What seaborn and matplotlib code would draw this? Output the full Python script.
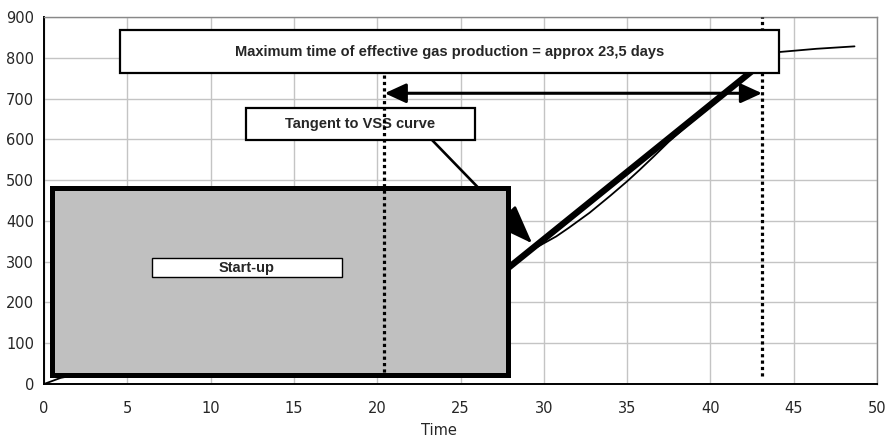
import matplotlib
matplotlib.use("Agg")
import matplotlib.pyplot as plt
import seaborn as sns
import pandas as pd
from matplotlib.patches import Rectangle

# ---- data ----
time_days = [0, 1, 2.5, 5, 10, 15, 20, 25, 27, 28.5, 29.3, 30.0, 30.75, 31.5,
             32.75, 34.0, 35.0, 35.75, 36.6, 37.5, 38.5, 40, 41, 42, 43, 43.6,
             44.1, 46.35, 48.65]
vss_curve = [0, 15, 27, 50, 100, 150, 200, 235, 252, 303, 329, 345, 362, 383,
             420, 462, 497, 525, 558, 594, 630, 680, 715, 748, 785, 804,
             814, 822, 828]
tangent_x = [24.0, 44.0]
tangent_y = [157, 817]
effective_start = 20.4
effective_end = 43.1
arrow_level = 713
x_ticks = [0, 5, 10, 15, 20, 25, 30, 35, 40, 45, 50]
y_ticks = [0, 100, 200, 300, 400, 500, 600, 700, 800, 900]
title_text = "Maximum time of effective gas production = approx 23,5 days"
tangent_text = "Tangent to VSS curve"
startup_text = "Start-up"

sns.set_style("white")
plt.rcParams['font.family'] = ['DejaVu Sans']
label_font = ['Liberation Sans Narrow', 'Liberation Sans', 'DejaVu Sans']

fig = plt.figure(figsize=(8.9, 4.37), dpi=100)
ax = fig.add_axes([44/890, 1-384/437, (877-44)/890, (384-17)/437])

df = pd.DataFrame({"Time": time_days, "VSS": vss_curve})
sns.lineplot(data=df, x="Time", y="VSS", ax=ax, color="black", lw=1.3,
             zorder=2, estimator=None, sort=False)

# grid & axes
ax.set_xlim(0, 50)
ax.set_ylim(0, 900)
ax.set_xticks(x_ticks)
ax.set_yticks(y_ticks)
ax.set_xticklabels([str(v) for v in x_ticks])
ax.set_yticklabels([str(v) for v in y_ticks])
ax.grid(True, color="#c4c4c4", lw=1.0, zorder=0.5)
ax.set_axisbelow(True)
for s in ["left", "bottom"]:
    ax.spines[s].set_color("black")
    ax.spines[s].set_linewidth(1.4)
for s in ["top", "right"]:
    ax.spines[s].set_color("#888888")
    ax.spines[s].set_linewidth(1.0)
ax.tick_params(axis="both", direction="out", length=4, width=1, color="black",
               labelsize=10.5)
ax.tick_params(axis="x", pad=8)
ax.tick_params(axis="y", pad=3)
ax.set_ylabel("")
ax.set_xlabel("Time", fontsize=10.5)
ax.xaxis.set_label_coords((439-44)/833, -0.106)

# tangent line
ax.plot(tangent_x, tangent_y, color="black", lw=4.6, zorder=3,
        solid_capstyle="butt")

# arrow from tangent label to tangent point
ax.annotate("", xy=(29.3, 345), xytext=(23.3, 598),
            arrowprops=dict(arrowstyle="-|>,head_length=1.35,head_width=0.5",
                            mutation_scale=18, lw=1.9, color="black",
                            shrinkA=0, shrinkB=0),
            zorder=3)

# start-up grey box
ax.add_patch(Rectangle((0.48, 22), 27.36, 459, facecolor="#c0c0c0",
                       edgecolor="black", lw=3.6, zorder=4, clip_on=False))
ax.add_patch(Rectangle((6.48, 262), 11.4, 47, facecolor="white",
                       edgecolor="black", lw=1.0, zorder=5))
ax.text(12.18, 285.5, startup_text, ha="center", va="center", fontsize=10.5,
        fontweight="bold", family=label_font, zorder=6)

# right dotted line
ax.plot([effective_end, effective_end], [20, 900], color="black", lw=2.3,
        ls=(0, (1, 1)), zorder=4, clip_on=False)

# top box
ax.add_patch(Rectangle((4.56, 762), 39.54, 106, facecolor="white",
                       edgecolor="black", lw=1.6, zorder=5))
ax.text(24.33, 815, title_text, ha="center", va="center", fontsize=10.5,
        fontweight="bold", family=label_font, zorder=6)

# tangent label box
ax.add_patch(Rectangle((12.12, 598), 13.78, 79, facecolor="white",
                       edgecolor="black", lw=1.6, zorder=5))
ax.text(19.0, 637, tangent_text, ha="center", va="center", fontsize=10.5,
        fontweight="bold", family=label_font, zorder=6)

# left dotted line
ax.plot([effective_start, effective_start], [757, 18], color="black", lw=2.3,
        ls=(0, (1, 1)), zorder=7)

# double-headed arrow
ax.annotate("", xy=(effective_end, arrow_level),
            xytext=(effective_start + 0.05, arrow_level),
            arrowprops=dict(arrowstyle="<|-|>,head_length=0.72,head_width=0.33",
                            mutation_scale=18, lw=2.2, color="black",
                            shrinkA=0, shrinkB=0),
            zorder=7)

fig.savefig("out.png", dpi=100)
